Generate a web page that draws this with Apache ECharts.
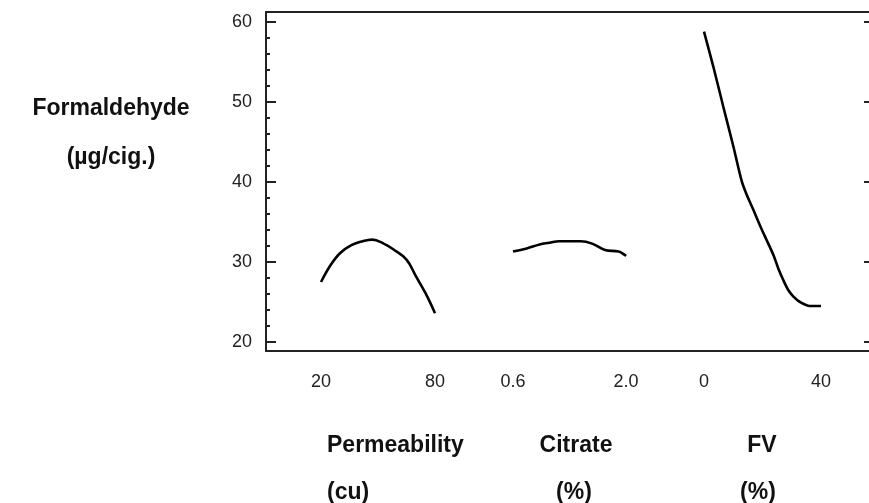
<!DOCTYPE html>
<html>
<head>
<meta charset="utf-8">
<script src="https://cdn.jsdelivr.net/npm/echarts@6/dist/echarts.min.js"></script>
<style>
html, body { margin: 0; padding: 0; background: #fff; }
#main { width: 869px; height: 503px; }
</style>
</head>
<body>
<div id="main"></div>
<script>
// response axis
var yTicks = [20, 30, 40, 50, 60];

// Permeability (cu)
var permTicks = [20, 80];
var permX = [20, 25, 30, 36, 42, 47, 53, 58, 65, 70, 75, 80];
var permY = [27.5, 29.6, 31.1, 32.1, 32.6, 32.8, 32.3, 31.6, 30.3, 28.2, 26.1, 23.6];

// Citrate (%)
var citTicks = [0.6, 2.0];
var citX = [0.6, 0.77, 0.93, 1.05, 1.17, 1.44, 1.58, 1.74, 1.91, 2.0];
var citY = [31.3, 31.7, 32.2, 32.4, 32.6, 32.6, 32.3, 31.5, 31.3, 30.75];

// FV (%)
var fvTicks = [0, 40];
var fvX = [0, 3.2, 6.6, 10, 12.9, 14.6, 16.9, 19.1, 21.4, 23.7, 25.4, 27.1, 28.8, 30.5, 32.8, 36.2, 40];
var fvY = [58.8, 54.4, 49.4, 44.5, 40.1, 38.4, 36.5, 34.6, 32.75, 30.9, 29.2, 27.75, 26.5, 25.7, 25.0, 24.5, 24.5];

function pairs(xs, ys) {
    return xs.map(function (x, i) { return [x, ys[i]]; });
}

var labelFont = '"Liberation Sans", Arial, sans-serif';
var boldFont = 'bold 23px "Liberation Sans", Arial, sans-serif';
var frameLine = { color: '#222', width: 2 };

var chart = echarts.init(document.getElementById('main'));

function hiddenX(g) {
    return { gridIndex: g, type: 'value', min: 0, max: 1, show: false };
}
function hiddenY(g) {
    return { gridIndex: g, type: 'value', min: yTicks[0], max: yTicks[yTicks.length - 1], show: false };
}
// frame edge: only the axis line
function edgeAxis(g, pos) {
    return {
        gridIndex: g, type: 'value', min: 0, max: 1, position: pos,
        axisLine: { show: true, lineStyle: frameLine },
        axisTick: { show: false }, axisLabel: { show: false }, splitLine: { show: false }
    };
}
// x axis that only shows the two end labels of a panel
function panelX(g, ticks, digits) {
    return {
        gridIndex: g, type: 'value',
        min: ticks[0], max: ticks[ticks.length - 1],
        interval: ticks[ticks.length - 1] - ticks[0],
        axisLine: { show: false }, axisTick: { show: false }, splitLine: { show: false },
        axisLabel: {
            show: true, margin: 31, color: '#222', fontSize: 18, fontFamily: labelFont,
            showMinLabel: true, showMaxLabel: true,
            formatter: function (v) { return v.toFixed(digits); }
        }
    };
}

var lineStyle = { color: '#000', width: 2.6 };

chart.setOption({
    backgroundColor: '#fff',
    animation: false,
    grid: [
        // frame (left, top, bottom lines)
        { left: 266, top: 12, right: 0, bottom: 152 },
        // tick marks
        { left: 266, top: 22, right: 0, bottom: 161 },
        // panels
        { left: 321, top: 22, width: 114, bottom: 161 },
        { left: 513, top: 22, width: 113, bottom: 161 },
        { left: 704, top: 22, width: 117, bottom: 161 }
    ],
    xAxis: [
        edgeAxis(0, 'bottom'),
        edgeAxis(0, 'top'),
        hiddenX(1),
        panelX(2, permTicks, 0),
        panelX(3, citTicks, 1),
        panelX(4, fvTicks, 0)
    ],
    yAxis: [
        edgeAxis(0, 'left'),
        {
            gridIndex: 1, type: 'value', position: 'left',
            min: yTicks[0], max: yTicks[yTicks.length - 1], interval: 10,
            axisLine: { show: false },
            axisTick: { show: true, inside: true, length: 10, lineStyle: { color: '#222', width: 2 } },
            minorTick: { show: true, splitNumber: 5, length: 4, lineStyle: { color: '#222', width: 2 } },
            splitLine: { show: false },
            axisLabel: { margin: 14, color: '#222', fontSize: 18, fontFamily: labelFont }
        },
        {
            gridIndex: 1, type: 'value', position: 'right',
            min: yTicks[0], max: yTicks[yTicks.length - 1], interval: 10,
            axisLine: { show: false },
            axisTick: { show: true, inside: true, length: 5, lineStyle: { color: '#222', width: 2 } },
            splitLine: { show: false },
            axisLabel: { show: false }
        },
        hiddenY(2),
        hiddenY(3),
        hiddenY(4)
    ],
    series: [
        { name: 'Permeability', type: 'line', xAxisIndex: 3, yAxisIndex: 3, data: pairs(permX, permY), smooth: 0.4, symbol: 'none', lineStyle: lineStyle },
        { name: 'Citrate', type: 'line', xAxisIndex: 4, yAxisIndex: 4, data: pairs(citX, citY), smooth: 0.4, symbol: 'none', lineStyle: lineStyle },
        { name: 'FV', type: 'line', xAxisIndex: 5, yAxisIndex: 5, data: pairs(fvX, fvY), smooth: 0.3, symbol: 'none', lineStyle: lineStyle }
    ],
    graphic: [
        { type: 'text', x: 111, y: 109, style: { text: 'Formaldehyde', font: boldFont, fill: '#111', textAlign: 'center', textVerticalAlign: 'middle' } },
        { type: 'text', x: 111, y: 158, style: { text: '(µg/cig.)', font: boldFont, fill: '#111', textAlign: 'center', textVerticalAlign: 'middle' } },
        { type: 'text', x: 327, y: 446, style: { text: 'Permeability', font: boldFont, fill: '#111', textAlign: 'left', textVerticalAlign: 'middle' } },
        { type: 'text', x: 327, y: 493, style: { text: '(cu)', font: boldFont, fill: '#111', textAlign: 'left', textVerticalAlign: 'middle' } },
        { type: 'text', x: 576, y: 446, style: { text: 'Citrate', font: boldFont, fill: '#111', textAlign: 'center', textVerticalAlign: 'middle' } },
        { type: 'text', x: 574, y: 493, style: { text: '(%)', font: boldFont, fill: '#111', textAlign: 'center', textVerticalAlign: 'middle' } },
        { type: 'text', x: 762, y: 446, style: { text: 'FV', font: boldFont, fill: '#111', textAlign: 'center', textVerticalAlign: 'middle' } },
        { type: 'text', x: 758, y: 493, style: { text: '(%)', font: boldFont, fill: '#111', textAlign: 'center', textVerticalAlign: 'middle' } }
    ]
});
</script>
</body>
</html>
